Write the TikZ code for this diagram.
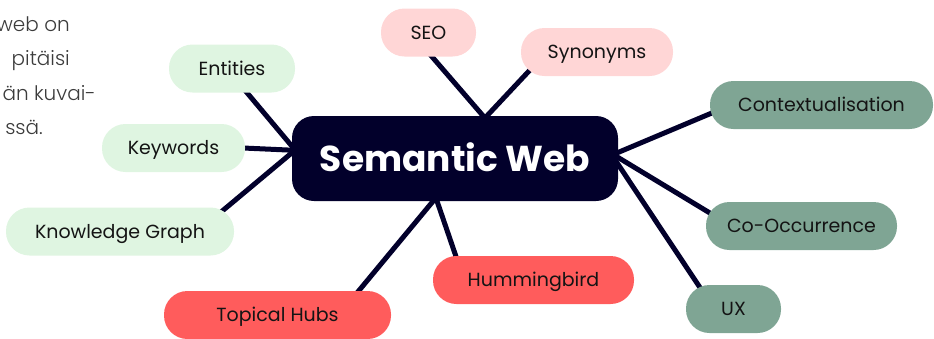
\documentclass[tikz,border=0pt]{standalone}
\usepackage{fontspec}
\setmainfont{Poppins}
\newfontfamily\prosefont{Poppins Light}
\usetikzlibrary{calc,backgrounds}
\definecolor{navy}{HTML}{02002B}
\definecolor{ink}{HTML}{141414}
\definecolor{lgreen}{HTML}{DFF5E1}
\definecolor{lpink}{HTML}{FFD6D6}
\definecolor{lred}{HTML}{FF5C5C}
\definecolor{sage}{HTML}{7FA594}
\definecolor{prose}{HTML}{3C3C3C}
\begin{document}
\begin{tikzpicture}[x=1pt,y=-1pt,
  leaf/.style={rectangle, rounded corners=23.5pt, minimum height=48pt, inner sep=0pt,
    font=\fontsize{19}{22}\selectfont, text=ink, text height=13.5pt, text depth=0pt},
  greenleaf/.style={leaf, fill=lgreen},
  pinkleaf/.style={leaf, fill=lpink},
  redleaf/.style={leaf, fill=lred},
  sageleaf/.style={leaf, fill=sage},
  hub/.style={rectangle, rounded corners=22pt, fill=navy, text=white, minimum width=326pt,
    minimum height=85pt, inner sep=0pt, font=\fontsize{36}{40}\bfseries, text height=25.5pt, text depth=0pt},
  prosetext/.style={anchor=base east, inner sep=0pt, text=prose, font=\prosefont\fontsize{20}{24}\selectfont},
  link/.style={draw=navy, line width=5pt}]
\useasboundingbox (0,0) rectangle (934,338);
\clip (0,0) rectangle (934,338);

% partial paragraph at left
\node[prosetext] (p1) at (70,31) {web on};
\node[prosetext] (p2) at (70,65.5) {pitäisi};
\node[prosetext] (p3) at (96,100) {än kuvai-};
\node[prosetext] (p4) at (43,134.5) {ssä.};

% hub
\node[hub] (c) at (455,158.5) {Semantic Web};

% leaves
\node[pinkleaf, minimum width=95pt] (seo) at (428.5,32.5) {SEO};
\node[pinkleaf, minimum width=152pt] (syn) at (597,52) {Synonyms};
\node[greenleaf, minimum width=126pt] (ent) at (232,68.5) {Entities};
\node[greenleaf, minimum width=143pt] (kw) at (173.5,148) {Keywords};
\node[greenleaf, minimum width=228pt] (kg) at (120,231.5) {Knowledge Graph};
\node[redleaf, minimum width=227pt] (th) at (277.5,315) {Topical Hubs};
\node[redleaf, minimum width=201pt] (hb) at (533.5,280) {Hummingbird};
\node[sageleaf, minimum width=95pt] (ux) at (733.5,309) {UX};
\node[sageleaf, minimum width=191pt] (co) at (801.5,226) {Co-Occurrence};
\node[sageleaf, minimum width=223pt] (ctx) at (821.5,105) {Contextualisation};

% connectors
\begin{pgfonlayer}{background}
\draw[link] ($(seo.south)+(-3.4,-8)$) -- ($(c.north)+(33.2,6)$);
\draw[link] ($(syn.south west)+(12.7,-10)$) -- ($(c.north)+(26.4,6)$);
\draw[link] ($(ctx.west)+(12,3.8)$) -- ($(c.east)+(-5,-4)$);
\draw[link] ($(co.west)+(14,-7)$) -- ($(c.east)+(-5,-4)$);
\draw[link] ($(ux.north west)+(19,10)$) -- ($(c.east)+(-4,0)$);
\draw[link] ($(hb.north)+(-75,8)$) -- ($(c.south)+(-20,-6)$);
\draw[link] ($(th.north)+(73.8,9)$) -- ($(c.south)+(-17,-6)$);
\draw[link] ($(ent.south)+(8.3,-8)$) -- ($(c.west)+(5,-6.5)$);
\draw[link] ($(kw.east)+(-11,-0.4)$) -- ($(c.west)+(7,-8)$);
\draw[link] ($(kg.north east)+(-20.7,11)$) -- ($(c.west)+(7,-11.5)$);
\end{pgfonlayer}
\end{tikzpicture}
\end{document}
